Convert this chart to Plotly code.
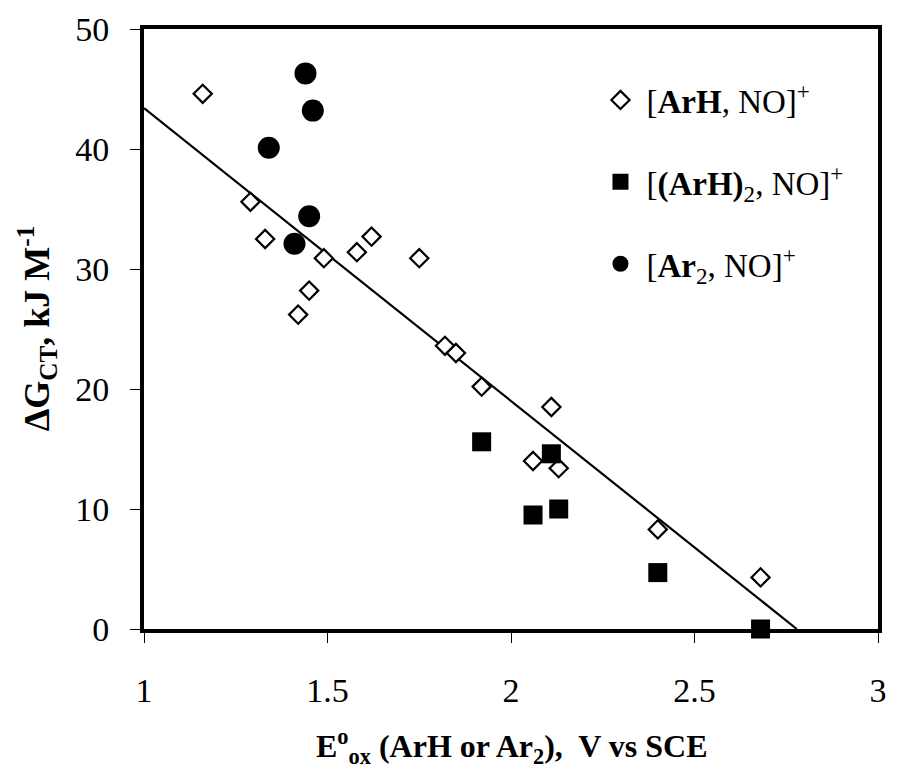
import plotly.graph_objects as go

# ---- data ----
arh_x = [1.16, 1.29, 1.33, 1.42, 1.45, 1.49, 1.58, 1.62, 1.75, 1.82, 1.85, 1.92, 2.06, 2.11, 2.13, 2.40, 2.68]
arh_y = [44.6, 35.6, 32.5, 26.2, 28.2, 30.9, 31.4, 32.7, 30.9, 23.6, 23.0, 20.2, 14.0, 18.5, 13.4, 8.3, 4.3]

arh2_x = [1.92, 2.06, 2.11, 2.13, 2.40, 2.68]
arh2_y = [15.6, 9.5, 14.6, 10.0, 4.7, 0.0]

ar2_x = [1.34, 1.41, 1.44, 1.45, 1.46]
ar2_y = [40.1, 32.1, 46.3, 34.4, 43.2]

fit_intercept_at_1 = 43.4   # value of the fit line at x = 1
fit_slope = -24.4
x_ticks = [1, 1.5, 2, 2.5, 3]
y_ticks = [0, 10, 20, 30, 40, 50]

fit_x = [1.0, 1.0 - fit_intercept_at_1 / fit_slope]
fit_y = [fit_intercept_at_1 + fit_slope * (v - 1.0) for v in fit_x]

SERIF = "Liberation Serif, Times New Roman, serif"

fig = go.Figure()
fig.add_trace(go.Scatter(x=fit_x, y=fit_y, mode="lines",
                         line=dict(color="black", width=2.2), showlegend=False,
                         hoverinfo="skip"))
fig.add_trace(go.Scatter(x=arh_x, y=arh_y, mode="markers",
                         name="[<b>ArH</b>, NO]<sup>+</sup>", legendgroup="a",
                         marker=dict(symbol="diamond", size=14, color="white",
                                     line=dict(color="black", width=2.2)),
                         cliponaxis=False))
fig.add_trace(go.Scatter(x=arh2_x, y=arh2_y, mode="markers",
                         name="[<b>(ArH)</b><sub>2</sub>, NO]<sup>+</sup>", legendgroup="b",
                         marker=dict(symbol="square", size=19, color="black"),
                         cliponaxis=False))
fig.add_trace(go.Scatter(x=ar2_x, y=ar2_y, mode="markers",
                         name="[<b>Ar</b><sub>2</sub>, NO]<sup>+</sup>", legendgroup="c",
                         marker=dict(symbol="circle", size=22, color="black"),
                         cliponaxis=False))

L, R, T, B = 144, 10, 29, 145
W, H = 897, 774
pw, ph = W - L - R, H - T - B

def px_x(p):
    return (p - L) / pw

def px_y(p):
    return (H - B - p) / ph

fig.update_layout(
    width=W, height=H,
    margin=dict(l=L, r=R, t=T, b=B),
    paper_bgcolor="white", plot_bgcolor="white",
    font=dict(family=SERIF, color="black"),
    showlegend=True,
    legend=dict(x=px_x(600), y=px_y(72), xanchor="left", yanchor="top",
                font=dict(family=SERIF, size=33, color="black"),
                bgcolor="rgba(0,0,0,0)", tracegroupgap=36,
                itemwidth=42, traceorder="grouped"),
    xaxis=dict(range=[1, 3], tickvals=x_ticks, ticktext=[str(v) for v in x_ticks],
               showgrid=False, zeroline=False, showline=True, mirror=True,
               linecolor="black", linewidth=4, ticks="outside", ticklen=10,
               tickwidth=1, tickcolor="black", ticklabelstandoff=18,
               tickfont=dict(family=SERIF, size=34, color="black")),
    yaxis=dict(range=[0, 50], tickvals=y_ticks,
               showgrid=False, zeroline=False, showline=True, mirror=True,
               linecolor="black", linewidth=4, ticks="outside", ticklen=10,
               tickwidth=1, tickcolor="black", ticklabelstandoff=14,
               tickfont=dict(family=SERIF, size=34, color="black")),
    annotations=[
        dict(text="<b>E<sup>o</sup><sub>ox</sub> (ArH or Ar<sub>2</sub>),  V vs SCE</b>",
             xref="paper", yref="paper", x=0.5, y=px_y(746),
             xanchor="center", yanchor="middle", showarrow=False,
             font=dict(family=SERIF, size=32, color="black")),
        dict(text="<b>ΔG<sub>CT</sub>, kJ M<sup>-1</sup></b>",
             xref="paper", yref="paper", x=px_x(36), y=px_y(328),
             xanchor="center", yanchor="middle", showarrow=False, textangle=-90,
             font=dict(family=SERIF, size=36, color="black")),
    ],
)

fig.write_html("out.html")
